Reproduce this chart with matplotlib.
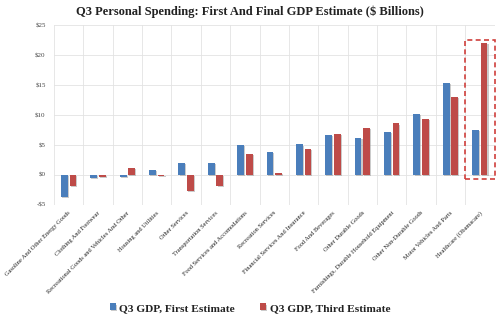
import matplotlib
matplotlib.use("Agg")
import matplotlib.pyplot as plt
import matplotlib.patheffects as pe
from matplotlib.patches import Rectangle
import numpy as np

categories = [
    "Gasoline And Other Energy Goods",
    "Clothing And Footwear",
    "Recreational Goods and Vehicles And Other",
    "Housing and Utilities",
    "Other Services",
    "Transportation Services",
    "Food Services and Accomodations",
    "Recreation Services",
    "Financial Services And Insurance",
    "Food And Beverages",
    "Other Durable Goods",
    "Furnishings, Durable Household Equipment",
    "Other Non-Durable Goods",
    "Motor Vehicles And Parts",
    "Healthcare (Obamacare)",
]
first_estimate = [-3.6, -0.5, -0.3, 0.8, 1.95, 2.0, 5.0, 3.9, 5.1, 6.7, 6.2, 7.2, 10.2, 15.4, 7.5]
third_estimate = [-1.8, -0.3, 1.2, -0.1, -2.6, -1.8, 3.5, 0.3, 4.3, 6.9, 7.9, 8.6, 9.4, 13.0, 22.0]
y_ticks = [-5, 0, 5, 10, 15, 20, 25]
series_names = ["Q3 GDP, First Estimate", "Q3 GDP, Third Estimate"]

BLUE = "#4A7EBB"
RED = "#BE4B48"
SERIF = ["Liberation Serif", "DejaVu Serif"]

fig = plt.figure(figsize=(5.0, 3.21), dpi=100)
ax = fig.add_axes([0.108, 0.3614, 0.881, 0.5606])

x = np.arange(len(categories))
w = 0.23
off = 0.146
shadow = [pe.SimplePatchShadow(offset=(0.8, -0.8), shadow_rgbFace="#999999", alpha=0.5), pe.Normal()]
b1 = ax.bar(x - off, first_estimate, width=w, color=BLUE, label=series_names[0], zorder=3)
b2 = ax.bar(x + off, third_estimate, width=w, color=RED, label=series_names[1], zorder=3)
for bars in (b1, b2):
    for p in bars:
        p.set_path_effects(shadow)

ax.set_xlim(-0.5, len(categories) - 0.5)
ax.set_ylim(-5, 25)
ax.set_yticks(y_ticks)
ax.set_yticklabels([f"${v}" if v >= 0 else f"-${-v}" for v in y_ticks],
                   fontsize=5, family=SERIF, color="#444444")
ax.set_xticks(np.arange(len(categories) + 1) - 0.5, minor=False)
ax.set_xticklabels([])
ax.tick_params(axis="both", length=0, pad=6)
ax.grid(True, color="#E3E3E3", linewidth=0.6, zorder=0)
for s in ax.spines.values():
    s.set_visible(False)

for i, name in enumerate(categories):
    ax.annotate(name, xy=(i, -5), xycoords="data", xytext=(1, -5), textcoords="offset points",
                rotation=45, rotation_mode="anchor", ha="right", va="center",
                fontsize=4.6, family=SERIF, color="#222222")

# highlight box around the last category
last = len(categories) - 1
ax.add_patch(Rectangle((last - 0.52, -0.67), 1.04, 23.2, fill=False, edgecolor="#D0403C",
                       linestyle=(0, (3, 2)), linewidth=1.2, zorder=4, clip_on=False))

fig.text(0.5, 0.962, "Q3 Personal Spending: First And Final GDP Estimate ($ Billions)",
         ha="center", va="center", fontsize=9, fontweight="bold", family=SERIF, color="#222222")

fig.legend(handles=[b1, b2], loc="center", bbox_to_anchor=(0.5, 0.04), ncol=2, frameon=False,
           prop={"family": SERIF, "size": 8.2, "weight": "bold"}, handlelength=0.55, handleheight=0.55,
           handletextpad=0.3, columnspacing=2.2, labelcolor="#222222")

fig.savefig("out.png", dpi=100, facecolor="white")
